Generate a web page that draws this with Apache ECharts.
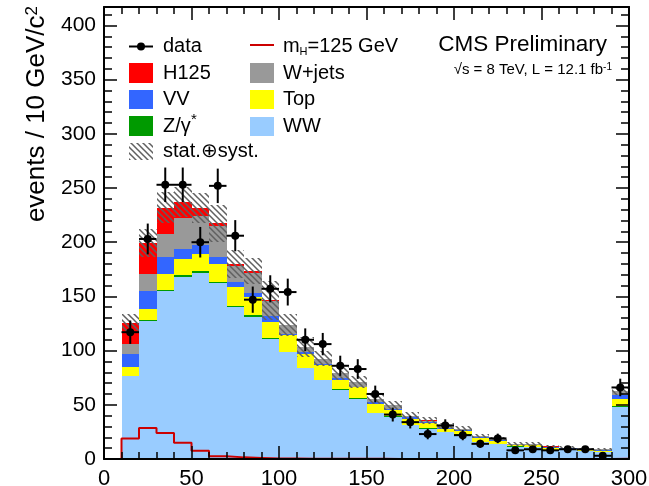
<!DOCTYPE html>
<html><head><meta charset="utf-8">
<script src="https://cdn.jsdelivr.net/npm/echarts@6/dist/echarts.min.js"></script>
<style>html,body{margin:0;padding:0;background:#fff}#c{width:649px;height:486px}</style>
</head><body><div id="c"></div>
<script>
// ---- data (bins of 10 GeV, lower edges) ----
const binLow = [0,10,20,30,40,50,60,70,80,90,100,110,120,130,140,150,160,170,180,190,200,210,220,230,240,250,260,270,280,290];
const binWidth = 10;
const WW     = [0,76.5,127,155,168,171.5,162,140,131,111,98.5,83.5,72.5,64,55,42,39,31,28,25,22.5,15.5,14,11,11,8.5,8.5,7.3,6.3,48];
const ZG     = [0,0.5,1.5,0.8,1.5,1.5,1.5,1.5,1.5,0.8,0.5,0.5,0.5,0.3,1,0.3,0.3,0.2,0.2,0.2,0.2,0.2,0.2,1,0.2,0.1,0.1,0.1,0.1,0.5];
const TOP    = [0,7.5,10,15.2,15,16.5,16.5,17,17,14.2,15,13,13.5,8.7,10,8.7,5.7,5.8,4.8,2.8,2.8,3.8,2.8,0.5,1.3,1.7,0.7,0.6,0.6,7];
const VV     = [0,12,16.5,15.5,9.5,7.5,6.5,4.5,3.5,5.5,1.5,1.5,1.5,1.5,0.5,1.5,1.5,1.5,1,1,1.5,1,0.5,0.5,0.5,0.7,0.7,0.5,1.5,4];
const WJETS  = [0,10,15.5,21.5,28,27,28.5,15.5,19,14.5,8,4.5,4.5,4.5,4.5,2.5,3,1.5,1.5,1,1,0.5,1,1,1,0.5,0.4,0.5,0.3,3];
const H125   = [0,19,28.5,24,15,7.5,2.5,1.5,1,0.5,0.4,0.3,0.2,0.2,0.2,0.2,0.1,0.1,0.1,0.1,0.1,0.1,0.1,0.1,0.1,0.1,0.1,0.1,0.1,0.3];
const DATA   = [0,117,203,253,253,200,252,206,147,157,154,110,106,86,83,60,41,34,23,31,22,14,19,8,9,8,9,9,3,66];
const DATA_ERR = [0,10.8,14.2,15.9,15.9,14.1,15.9,14.4,12.1,12.5,12.4,10.5,10.3,9.3,9.1,7.7,6.4,5.8,4.8,5.6,4.7,3.7,4.4,2.8,3,2.8,3,3,1.7,8.1];
const SYST   = [0,8,13,14,14,14,17,13,12,18,10,9,7,6,5.5,4.5,4,3.5,3,2.8,2.5,2,2,1.8,1.8,1.5,1.5,1.5,1.2,4];
const xTicks = [0,50,100,150,200,250,300];
const yTickLabels = [0,50,100,150,200,250,300,350,400];

const FONT = '"Liberation Sans", Arial, Helvetica, sans-serif';
const COLORS = {WW:'#99ccff', ZG:'#009a00', TOP:'#ffff00', VV:'#3366ff', WJETS:'#999999', H125:'#ff0000', LINE:'#cc0000'};

function makeHatch(){
  const c = document.createElement('canvas'); c.width = 6; c.height = 6;
  const g = c.getContext('2d');
  g.strokeStyle = '#606060'; g.lineWidth = 1.5;
  g.beginPath();
  g.moveTo(-1,-1); g.lineTo(7,7);
  g.moveTo(-4,2); g.lineTo(2,8);
  g.moveTo(2,-4); g.lineTo(8,2);
  g.stroke();
  return c;
}
const hatch = {image: makeHatch(), repeat: 'repeat'};

const comps = [
  {name:'WW', vals:WW, color:COLORS.WW},
  {name:'Z', vals:ZG, color:COLORS.ZG},
  {name:'Top', vals:TOP, color:COLORS.TOP},
  {name:'VV', vals:VV, color:COLORS.VV},
  {name:'W+jets', vals:WJETS, color:COLORS.WJETS},
  {name:'H125', vals:H125, color:COLORS.H125}
];

function rectRenderer(fill){
  return function(params, api){
    const p0 = api.coord([api.value(0), api.value(3)]);
    const p1 = api.coord([api.value(1), api.value(2)]);
    const x0 = Math.round(p0[0]), x1 = Math.round(p1[0]);
    const y0 = Math.round(p0[1]), y1 = Math.round(p1[1]);
    return {type:'rect', shape:{x:x0, y:y0, width:x1-x0, height:y1-y0}, style:{fill:fill}};
  };
}

const series = [];
const base = binLow.map(() => 0);
comps.forEach(c => {
  const d = binLow.map((x,i) => {
    const b = base[i]; base[i] += c.vals[i];
    return [x, x+binWidth, b, b + c.vals[i]];
  }).filter(r => r[3] > r[2]);
  series.push({type:'custom', name:c.name, renderItem:rectRenderer(c.color), data:d,
    encode:{x:[0,1], y:[2,3]}, z:2, silent:true});
});
// uncertainty band
const band = binLow.map((x,i) => [x, x+binWidth, base[i]-SYST[i], base[i]+SYST[i]]).filter(r => r[3] > r[2]);
series.push({type:'custom', name:'stat.syst', renderItem:rectRenderer(hatch), data:band, encode:{x:[0,1], y:[2,3]}, z:3, silent:true});
// Higgs line
const hLine = binLow.map((x,i) => [x, H125[i]]);
hLine.push([300, H125[H125.length-1]]);
series.push({type:'line', step:'end', data:hLine, symbol:'none', lineStyle:{color:COLORS.LINE, width:2}, z:4, silent:true});
// data points
const dpts = binLow.map((x,i) => [x, x+binWidth, DATA[i], DATA_ERR[i]]).filter(r => r[2] > 0);
series.push({type:'custom', name:'data', z:5, silent:true, data:dpts, encode:{x:[0,1], y:2},
  renderItem:function(params, api){
    const xl = api.value(0), xr = api.value(1), y = api.value(2), e = api.value(3);
    const c = api.coord([(xl+xr)/2, y]);
    const l = api.coord([xl, y])[0], r = api.coord([xr, y])[0];
    const t = api.coord([(xl+xr)/2, y+e])[1], b = api.coord([(xl+xr)/2, Math.max(0, y-e)])[1];
    return {type:'group', children:[
      {type:'line', shape:{x1:l, y1:c[1], x2:r, y2:c[1]}, style:{stroke:'#000', lineWidth:2}},
      {type:'line', shape:{x1:c[0], y1:t, x2:c[0], y2:b}, style:{stroke:'#000', lineWidth:2}},
      {type:'circle', shape:{cx:c[0], cy:c[1], r:4}, style:{fill:'#000'}}
    ]};
  }});

const axLine = {show:true, onZero:false, lineStyle:{color:'#000', width:2}};
function xAx(pos, labels){
  return {type:'value', min:0, max:300, interval:50, position:pos, z:10,
    axisLine:axLine,
    axisTick:{show:true, inside:true, length:13, lineStyle:{color:'#000', width:1.5}},
    minorTick:{show:true, splitNumber:5, length:7, lineStyle:{color:'#000', width:1.5}},
    axisLabel:{show:labels, fontSize:22, color:'#000', fontFamily:FONT, margin:9,
      formatter: v => xTicks.indexOf(v) >= 0 ? String(v) : ''},
    splitLine:{show:false}, minorSplitLine:{show:false}};
}
function yAx(pos, interval, len, labels, line){
  return {type:'value', min:0, max:417, interval:interval, position:pos, z:10,
    axisLine: line ? axLine : {show:false, onZero:false},
    axisTick:{show:true, inside:true, length:len, lineStyle:{color:'#000', width:1.5}},
    axisLabel:{show:labels, fontSize:21, color:'#000', fontFamily:FONT, margin:8, showMaxLabel:false,
      formatter: v => yTickLabels.indexOf(v) >= 0 ? String(v) : ''},
    splitLine:{show:false}};
}

function txt(x, y, text, size, extra){
  return {type:'text', x:x, y:y, z:100, silent:true,
    style:Object.assign({text:text, fontSize:size, fontFamily:FONT, fill:'#000', align:'left', verticalAlign:'middle'}, extra||{})};
}
function box(x, y, w, h, fill){
  return {type:'rect', z:100, silent:true, shape:{x:x, y:y, width:w, height:h}, style:{fill:fill}};
}

const graphic = [
  // column 1
  {type:'line', z:100, shape:{x1:129, y1:46.5, x2:153, y2:46.5}, style:{stroke:'#000', lineWidth:2}},
  {type:'circle', z:100, shape:{cx:141, cy:46.5, r:4}, style:{fill:'#000'}},
  txt(163, 46.5, 'data', 20),
  box(129, 63, 24, 20, COLORS.H125), txt(163, 73, 'H125', 20),
  box(129, 90, 24, 19, COLORS.VV), txt(163, 99.5, 'VV', 20),
  box(129, 116, 24, 20, COLORS.ZG), txt(163, 126, 'Z/\u03b3', 20), txt(191, 120, '*', 15),
  box(129, 143, 24, 17, hatch), txt(163, 151.5, 'stat.\u2295syst.', 20),
  // column 2
  {type:'line', z:100, shape:{x1:250, y1:45, x2:274, y2:45}, style:{stroke:COLORS.LINE, lineWidth:2}},
  txt(283, 46.5, 'm', 20), txt(299.5, 52, 'H', 11), txt(307.5, 46.5, '=125 GeV', 20),
  box(250, 63, 24, 20, COLORS.WJETS), txt(283, 73, 'W+jets', 20),
  box(250, 90, 24, 19, COLORS.TOP), txt(283, 99.5, 'Top', 20),
  box(250, 117, 24, 19, COLORS.WW), txt(283, 126.5, 'WW', 20),
  // labels
  txt(607, 45, 'CMS Preliminary', 22.5, {align:'right'}),
  {type:'text', x:612, y:70, z:100, style:{text:'\u221as = 8 TeV, L = 12.1 fb{sup|-1}', fontSize:15, fontFamily:FONT, fill:'#000', align:'right', verticalAlign:'middle',
    rich:{sup:{fontSize:10, fontFamily:FONT, fill:'#000', verticalAlign:'top'}}}},
  // y title
  {type:'text', x:37, y:6, rotation:Math.PI/2, z:100, style:{text:'events / 10 GeV/c{sup|2}', fontSize:26, fontFamily:FONT, fill:'#000', align:'right', verticalAlign:'middle',
    rich:{sup:{fontSize:17, fontFamily:FONT, fill:'#000', verticalAlign:'top'}}}}
];

const chart = echarts.init(document.getElementById('c'), null, {renderer:'canvas'});
chart.setOption({
  animation:false,
  backgroundColor:'#ffffff',
  grid:{left:104, right:20, top:7, bottom:27, containLabel:false, outerBoundsMode:'none'},
  xAxis:[xAx('bottom', true), xAx('top', false)],
  yAxis:[yAx('left', 10, 8, true, true), yAx('left', 50, 13, false, false), yAx('right', 10, 8, false, true), yAx('right', 50, 13, false, false)],
  series:series.map(s => Object.assign({xAxisIndex:0, yAxisIndex:0}, s)),
  graphic:graphic
});
</script></body></html>
